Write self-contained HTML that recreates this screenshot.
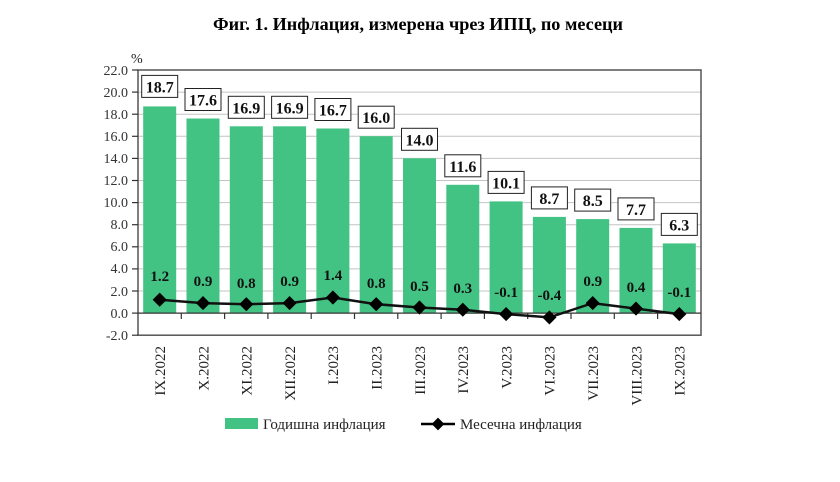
<!DOCTYPE html>
<html><head><meta charset="utf-8"><style>
html,body{margin:0;padding:0;background:#fff;}
svg{display:block;font-family:"Liberation Serif",serif;}
</style></head><body>
<svg width="840" height="482" viewBox="0 0 840 482" xmlns="http://www.w3.org/2000/svg">
<text x="418" y="30" text-anchor="middle" font-size="18" font-weight="bold" textLength="410" lengthAdjust="spacingAndGlyphs">Фиг. 1. Инфлация, измерена чрез ИПЦ, по месеци</text>
<text x="131" y="63" font-size="14" fill="#222">%</text>
<g stroke="#c4c4c4" stroke-width="1">
<line x1="138" x2="701" y1="92.1" y2="92.1"/><line x1="138" x2="701" y1="114.2" y2="114.2"/>
<line x1="138" x2="701" y1="136.3" y2="136.3"/><line x1="138" x2="701" y1="158.4" y2="158.4"/>
<line x1="138" x2="701" y1="180.5" y2="180.5"/><line x1="138" x2="701" y1="202.6" y2="202.6"/>
<line x1="138" x2="701" y1="224.7" y2="224.7"/><line x1="138" x2="701" y1="246.8" y2="246.8"/>
<line x1="138" x2="701" y1="268.9" y2="268.9"/><line x1="138" x2="701" y1="291" y2="291"/>
</g>
<g fill="#43c383">
<rect x="143.2" y="106.4" width="33" height="206.6"/>
<rect x="186.5" y="118.5" width="33" height="194.5"/>
<rect x="229.8" y="126.3" width="33" height="186.7"/>
<rect x="273.1" y="126.3" width="33" height="186.7"/>
<rect x="316.4" y="128.5" width="33" height="184.5"/>
<rect x="359.7" y="136.2" width="33" height="176.8"/>
<rect x="403" y="158.3" width="33" height="154.7"/>
<rect x="446.3" y="184.8" width="33" height="128.2"/>
<rect x="489.6" y="201.4" width="33" height="111.6"/>
<rect x="532.9" y="216.9" width="33" height="96.1"/>
<rect x="576.2" y="219.1" width="33" height="93.9"/>
<rect x="619.5" y="227.9" width="33" height="85.1"/>
<rect x="662.8" y="243.4" width="33" height="69.6"/>
</g>
<rect x="138" y="70" width="563" height="265.2" fill="none" stroke="#555" stroke-width="1.5"/>
<line x1="138" x2="701" y1="313.1" y2="313.1" stroke="#333" stroke-width="1.2"/>
<g stroke="#333" stroke-width="1.2">
<line x1="181.3" x2="181.3" y1="313" y2="319"/><line x1="224.6" x2="224.6" y1="313" y2="319"/>
<line x1="267.9" x2="267.9" y1="313" y2="319"/><line x1="311.2" x2="311.2" y1="313" y2="319"/>
<line x1="354.5" x2="354.5" y1="313" y2="319"/><line x1="397.8" x2="397.8" y1="313" y2="319"/>
<line x1="441.1" x2="441.1" y1="313" y2="319"/><line x1="484.4" x2="484.4" y1="313" y2="319"/>
<line x1="527.7" x2="527.7" y1="313" y2="319"/><line x1="571" x2="571" y1="313" y2="319"/>
<line x1="614.3" x2="614.3" y1="313" y2="319"/><line x1="657.6" x2="657.6" y1="313" y2="319"/>
<line x1="132" x2="138" y1="70" y2="70"/><line x1="132" x2="138" y1="92.1" y2="92.1"/><line x1="132" x2="138" y1="114.2" y2="114.2"/><line x1="132" x2="138" y1="136.3" y2="136.3"/><line x1="132" x2="138" y1="158.4" y2="158.4"/><line x1="132" x2="138" y1="180.5" y2="180.5"/><line x1="132" x2="138" y1="202.6" y2="202.6"/><line x1="132" x2="138" y1="224.7" y2="224.7"/><line x1="132" x2="138" y1="246.8" y2="246.8"/><line x1="132" x2="138" y1="268.9" y2="268.9"/><line x1="132" x2="138" y1="291" y2="291"/><line x1="132" x2="138" y1="313.1" y2="313.1"/><line x1="132" x2="138" y1="335.2" y2="335.2"/>
</g>
<g font-size="14" fill="#333" text-anchor="end">
<text x="128" y="75">22.0</text><text x="128" y="97">20.0</text><text x="128" y="119">18.0</text>
<text x="128" y="141">16.0</text><text x="128" y="163">14.0</text><text x="128" y="185">12.0</text>
<text x="128" y="207">10.0</text><text x="128" y="229">8.0</text><text x="128" y="251">6.0</text>
<text x="128" y="273">4.0</text><text x="128" y="296">2.0</text><text x="128" y="318">0.0</text>
<text x="128" y="340">-2.0</text>
</g>
<g fill="#fff" stroke="#222" stroke-width="1">
<rect x="141.7" y="75.4" width="36" height="22"/><rect x="185" y="88.5" width="36" height="22"/>
<rect x="228.3" y="96.3" width="36" height="22"/><rect x="271.6" y="96.3" width="36" height="22"/>
<rect x="314.9" y="98.5" width="36" height="22"/><rect x="358.2" y="106.2" width="36" height="22"/>
<rect x="401.5" y="128.3" width="36" height="22"/><rect x="444.8" y="154.8" width="36" height="22"/>
<rect x="488.1" y="171.4" width="36" height="22"/><rect x="531.4" y="186.9" width="36" height="22"/>
<rect x="574.7" y="189.1" width="36" height="22"/><rect x="618" y="197.9" width="36" height="22"/>
<rect x="661.3" y="213.4" width="36" height="22"/>
</g>
<g font-size="16" font-weight="bold" text-anchor="middle" fill="#111">
<text x="159.7" y="92.4">18.7</text><text x="203" y="105.5">17.6</text><text x="246.3" y="113.3">16.9</text>
<text x="289.6" y="113.3">16.9</text><text x="332.9" y="115.5">16.7</text><text x="376.2" y="123.2">16.0</text>
<text x="419.5" y="145.3">14.0</text><text x="462.8" y="171.8">11.6</text><text x="506.1" y="188.4">10.1</text>
<text x="549.4" y="203.9">8.7</text><text x="592.7" y="206.1">8.5</text><text x="636" y="214.9">7.7</text>
<text x="679.3" y="230.4">6.3</text>
</g>
<polyline fill="none" stroke="#111" stroke-width="2.5" points="159.7,299.7 203,303.1 246.3,304.2 289.6,303.1 332.9,297.5 376.2,304.2 419.5,307.5 462.8,309.7 506.1,314.1 549.4,317.4 592.7,303.1 636,308.6 679.3,314.1"/>
<g fill="#000">
<rect x="-5" y="-5" width="10" height="10" transform="translate(159.7,299.7) rotate(45)"/>
<rect x="-5" y="-5" width="10" height="10" transform="translate(203,303.1) rotate(45)"/>
<rect x="-5" y="-5" width="10" height="10" transform="translate(246.3,304.2) rotate(45)"/>
<rect x="-5" y="-5" width="10" height="10" transform="translate(289.6,303.1) rotate(45)"/>
<rect x="-5" y="-5" width="10" height="10" transform="translate(332.9,297.5) rotate(45)"/>
<rect x="-5" y="-5" width="10" height="10" transform="translate(376.2,304.2) rotate(45)"/>
<rect x="-5" y="-5" width="10" height="10" transform="translate(419.5,307.5) rotate(45)"/>
<rect x="-5" y="-5" width="10" height="10" transform="translate(462.8,309.7) rotate(45)"/>
<rect x="-5" y="-5" width="10" height="10" transform="translate(506.1,314.1) rotate(45)"/>
<rect x="-5" y="-5" width="10" height="10" transform="translate(549.4,317.4) rotate(45)"/>
<rect x="-5" y="-5" width="10" height="10" transform="translate(592.7,303.1) rotate(45)"/>
<rect x="-5" y="-5" width="10" height="10" transform="translate(636,308.6) rotate(45)"/>
<rect x="-5" y="-5" width="10" height="10" transform="translate(679.3,314.1) rotate(45)"/>
</g>
<g font-size="15" font-weight="bold" text-anchor="middle" fill="#111">
<text x="159.7" y="281">1.2</text><text x="203" y="286">0.9</text><text x="246.3" y="288">0.8</text>
<text x="289.6" y="286">0.9</text><text x="332.9" y="280">1.4</text><text x="376.2" y="288">0.8</text>
<text x="419.5" y="291">0.5</text><text x="462.8" y="293">0.3</text><text x="506.1" y="297">-0.1</text>
<text x="549.4" y="300">-0.4</text><text x="592.7" y="286">0.9</text><text x="636" y="292">0.4</text>
<text x="679.3" y="297">-0.1</text>
</g>
<g font-size="15" fill="#222" text-anchor="end">
<text transform="translate(165,346) rotate(-90)">IX.2022</text>
<text transform="translate(208.3,346) rotate(-90)">X.2022</text>
<text transform="translate(251.6,346) rotate(-90)">XI.2022</text>
<text transform="translate(294.9,346) rotate(-90)">XII.2022</text>
<text transform="translate(338.2,346) rotate(-90)">I.2023</text>
<text transform="translate(381.5,346) rotate(-90)">II.2023</text>
<text transform="translate(424.8,346) rotate(-90)">III.2023</text>
<text transform="translate(468.1,346) rotate(-90)">IV.2023</text>
<text transform="translate(511.4,346) rotate(-90)">V.2023</text>
<text transform="translate(554.7,346) rotate(-90)">VI.2023</text>
<text transform="translate(598,346) rotate(-90)">VII.2023</text>
<text transform="translate(641.3,346) rotate(-90)">VIII.2023</text>
<text transform="translate(684.6,346) rotate(-90)">IX.2023</text>
</g>
<rect x="225" y="418" width="33" height="11" fill="#43c383"/>
<text x="263" y="429" font-size="15" fill="#222">Годишна инфлация</text>
<line x1="421" x2="455" y1="424" y2="424" stroke="#000" stroke-width="2.5"/>
<rect x="-4.5" y="-4.5" width="9" height="9" fill="#000" transform="translate(438,424) rotate(45)"/>
<text x="460" y="429" font-size="15" fill="#222">Месечна инфлация</text>
</svg>
</body></html>
